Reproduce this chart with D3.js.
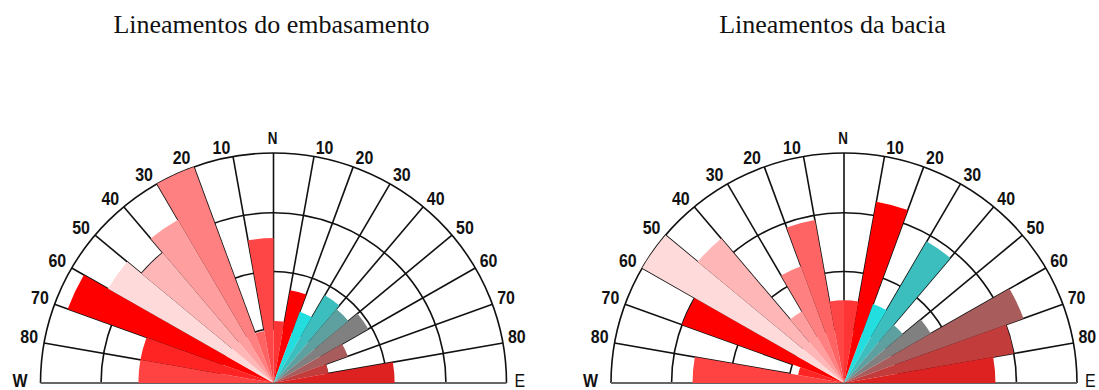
<!DOCTYPE html>
<html><head><meta charset="utf-8">
<script src="https://cdn.jsdelivr.net/npm/d3@7"></script>
<style>
html,body{margin:0;padding:0;background:#fff;}
svg{display:block;}
.dir-label{font-family:"Liberation Sans","Arial",sans-serif;font-weight:bold;font-size:19px;fill:#111;}
.cardinal{font-family:"Liberation Sans","Arial",sans-serif;font-size:19px;fill:#111;}
.title{font-family:"Liberation Serif","Times New Roman",serif;font-size:26px;fill:#111;}
</style></head><body>
<svg id="chart" width="1099" height="390"></svg>
<script>
// 10° sectors, azimuth clockwise from north (negative = west of north)
const sectorStarts = [-90,-80,-70,-60,-50,-40,-30,-20,-10,0,10,20,30,40,50,60,70,80];
const sectorColors = ["#ff4242","#ff2424","#ff0000","#ffdada","#ffb6b6","#ff9e9e","#ff8080","#ff6464","#ff4646","#ff3434",
                      "#ff0000","#22dede","#3cbebe","#5ea0a0","#808080","#a85c5c","#c23c3c","#de2222"];
// sector lengths, % of the outer circle
const basementValues = [58,58,94,82,74,82,100,23,63,27,41,33,44,42,47,34,24,52];
const basinValues    = [65,20,74,100,82,36,54,72,36,36,80,36.5,71,33,43,82,74,65];
const ringLevels = [23.5,48.5,74,100];
const directionLabels = [10,20,30,40,50,60,70,80];
const titles = ["Lineamentos do embasamento","Lineamentos da bacia"];

const svg = d3.select("#chart");
const R = 233, KY = 0.987, NARROW = 0.84;
const rScale = d3.scaleLinear().domain([0,100]).range([0,R]);
const rad = d => d*Math.PI/180;

// condensed text: scaled horizontally around its anchor point
function label(parent, x, y, txt, cls, anchor, size, weight){
  const t = parent.append("g").attr("transform",`translate(${x},${y}) scale(${NARROW},1)`)
    .append("text").attr("class",cls).attr("text-anchor",anchor).text(txt);
  if (size) t.style("font-size",size+"px");
  if (weight) t.style("font-weight",weight);
  return t;
}

function rose(cx, cy, values, title, titleX){
  const root = svg.append("g");
  const g = root.append("g").attr("transform",`translate(${cx},${cy}) scale(1,${KY})`);

  // rings
  ringLevels.forEach(v=>{
    const p = d3.path();
    const r = rScale(v);
    p.moveTo(-r,0); p.arc(0,0,r,Math.PI,2*Math.PI);
    g.append("path").attr("d",p.toString()).attr("fill","none")
      .attr("stroke","#111").attr("stroke-width",1.6).attr("vector-effect","non-scaling-stroke");
  });
  // spokes every 10°
  const spokes = d3.range(-80,81,10);
  g.selectAll("line.spoke").data(spokes).join("line").attr("class","spoke")
    .attr("x1",a=>rScale(ringLevels[0])*Math.sin(rad(a))).attr("y1",a=>-rScale(ringLevels[0])*Math.cos(rad(a)))
    .attr("x2",a=>R*Math.sin(rad(a))).attr("y2",a=>-R*Math.cos(rad(a)))
    .attr("stroke","#111").attr("stroke-width",1.6).attr("vector-effect","non-scaling-stroke");
  // W–E base line
  g.append("line").attr("x1",-R).attr("x2",R).attr("y1",0).attr("y2",0)
    .attr("stroke","#666").attr("stroke-width",2.2).attr("vector-effect","non-scaling-stroke");

  // sectors
  const arc = d3.arc().innerRadius(0)
    .outerRadius(d=>rScale(d.v))
    .startAngle(d=>rad(d.a0)).endAngle(d=>rad(d.a0+10));
  const data = sectorStarts.map((a0,i)=>({a0, v:values[i], c:sectorColors[i]}));
  g.selectAll("path.sector").data(data).join("path").attr("class","sector")
    .attr("d",arc).attr("fill",d=>d.c);

  // direction labels
  const pos = (a, r) => [cx + r*Math.sin(rad(a)), cy - r*KY*Math.cos(rad(a))];
  directionLabels.forEach(d=>{
    [d,-d].forEach(a=>{
      const [x,y] = pos(a, R+4);
      label(root, a>0 ? x+1 : x-2, y+1, d, "dir-label", a>0 ? "start" : "end");
    });
  });
  const [nx,ny] = pos(0,R);
  label(root, nx-1, ny-9, "N", "dir-label", "middle", 16);
  label(root, cx-R-13, cy+4, "W", "cardinal", "end", 19, "bold");
  label(root, cx+R+8, cy+4, "E", "cardinal", "start", 19);

  root.append("text").attr("class","title").attr("x",titleX).attr("y",33)
    .attr("text-anchor","middle").text(title);
}

rose(273.5, 383, basementValues, titles[0], 271.5);
rose(844, 383, basinValues, titles[1], 832.5);
</script>
</body></html>
